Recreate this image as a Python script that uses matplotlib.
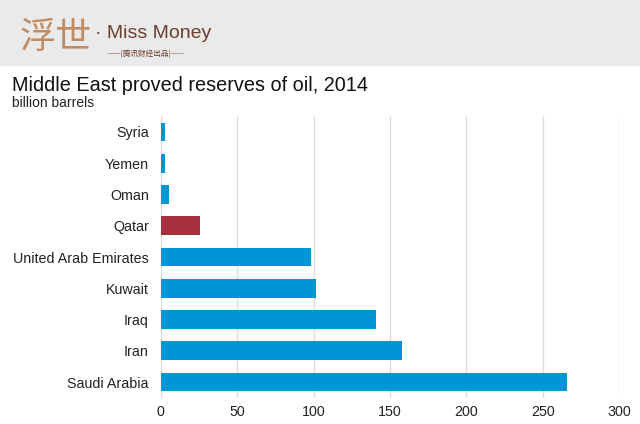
import matplotlib as mpl
mpl.use('Agg')

import matplotlib.pyplot as plt
from matplotlib.patches import Rectangle

countries = ['Saudi Arabia', 'Iran', 'Iraq', 'Kuwait', 'United Arab Emirates',
             'Qatar', 'Oman', 'Yemen', 'Syria']
reserves = [265.8, 157.6, 140.7, 101.6, 98.2, 25.5, 5.6, 3.0, 2.5]
highlight = 'Qatar'
x_ticks = [0, 50, 100, 150, 200, 250, 300]

blue = '#0096d6'
red = '#a5303f'

plt.rcParams['font.family'] = ['Liberation Sans', 'DejaVu Sans']

fig = plt.figure(figsize=(6.4, 4.24), dpi=100)
fig.patch.set_facecolor('white')

# grey header band with logo
fig.patches.append(Rectangle((0, 1 - 66 / 424), 1, 66 / 424, transform=fig.transFigure,
                             facecolor='#eaeaea', edgecolor='none', zorder=0))
cjk = ['Noto Sans CJK SC', 'DejaVu Sans']
fig.text(0.03, 0.91, '浮世', family=cjk, fontsize=26, fontweight='light',
         color='#c08a62', va='center')
fig.text(0.148, 0.92, '· Miss Money', fontsize=14, color='#6b3f2a', va='center')
fig.text(0.168, 0.872, '——|腾讯财经出品|——', family=cjk, fontsize=5.5,
         color='#6b3f2a', va='center')

# titles
fig.text(0.019, 0.798, 'Middle East proved reserves of oil, 2014', fontsize=14.3,
         color='#111111', va='center')
fig.text(0.019, 0.757, 'billion barrels', fontsize=10, color='#222222', va='center')

ax = fig.add_axes([0.2511, 0.0613, 0.7166, 0.665])
colors = [red if c == highlight else blue for c in countries]
ax.barh(countries, reserves, height=0.6, color=colors, zorder=3)

ax.set_xlim(0, 300)
ax.set_ylim(-0.51, len(countries) - 0.49)
ax.set_xticks(x_ticks)
ax.xaxis.grid(True, color='#dcdcdc', linewidth=1)
ax.set_axisbelow(True)
for s in ['top', 'right', 'bottom']:
    ax.spines[s].set_visible(False)
ax.spines['left'].set_color('#dcdcdc')
ax.tick_params(axis='both', length=0, labelsize=10.3, colors='#222222')
ax.tick_params(axis='y', pad=8.5)
ax.tick_params(axis='x', pad=5)

fig.savefig('out.png', dpi=100)
